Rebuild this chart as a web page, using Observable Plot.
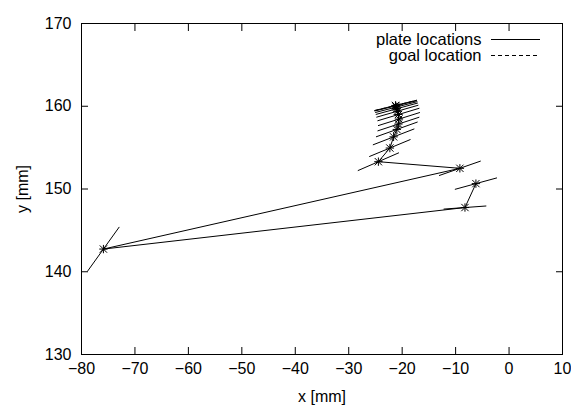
<!DOCTYPE html>
<html>
<head>
<meta charset="utf-8">
<script src="https://cdn.jsdelivr.net/npm/d3@7"></script>
<script src="https://cdn.jsdelivr.net/npm/@observablehq/plot@0.6"></script>
<style>
  html, body { margin: 0; padding: 0; background: white; }
</style>
</head>
<body>
<div id="chart"></div>
<script>
// Plate centre positions (mm), in travel order
const plateX = [-6.2, -8.25, -75.9, -9.2, -24.45, -22.3, -21.6, -21.0, -20.7, -20.6, -20.7, -20.9, -21.0, -21.1, -21.2, -21.25];
const plateY = [150.65, 147.76, 142.74, 152.5, 153.3, 154.95, 156.3, 157.2, 157.85, 158.45, 159.0, 159.4, 159.7, 159.9, 160.05, 160.1];
// Plate orientation angle (degrees) read from the short segments
const plateAngle = [10, 2.7, 42, 12.7, 15.7, 15, 14, 13, 12, 11.5, 11, 10.5, 10, 9.5, 9, 9];
const plateLength = 8; // mm, length of each drawn plate segment

// Goal location
const goalX = [-21.2];
const goalY = [160.1];
const goalAngle = [9];

const xTicks = [-80, -70, -60, -50, -40, -30, -20, -10, 0, 10];
const yTicks = [130, 140, 150, 160, 170];

const plates = plateX.map((x, i) => ({x, y: plateY[i], a: plateAngle[i]}));
const toSeg = (d) => {
  const r = d.a * Math.PI / 180, h = plateLength / 2;
  return {x1: d.x - h * Math.cos(r), y1: d.y - h * Math.sin(r), x2: d.x + h * Math.cos(r), y2: d.y + h * Math.sin(r)};
};
const plateSegs = plates.map(toSeg);
const goalSegs = goalX.map((x, i) => toSeg({x, y: goalY[i], a: goalAngle[i]}));

const font = "'Liberation Sans', Arial, Helvetica, sans-serif";

const chart = Plot.plot({
  width: 571,
  height: 405,
  marginLeft: 81,
  marginRight: 9,
  marginTop: 23,
  marginBottom: 51,
  style: {fontFamily: font, fontSize: "16px", background: "white", color: "black"},
  x: {domain: [-80, 10], ticks: xTicks},
  y: {domain: [130, 170], ticks: yTicks},
  marks: [
    // ticks (inward, mirrored)
    Plot.axisX(xTicks, {anchor: "bottom", tickSize: -7, fill: "none", label: null}),
    Plot.axisX(xTicks, {anchor: "top", tickSize: -7, fill: "none", label: null}),
    Plot.axisY(yTicks, {anchor: "left", tickSize: -7, fill: "none", label: null}),
    Plot.axisY(yTicks, {anchor: "right", tickSize: -7, fill: "none", label: null}),
    // tick labels
    Plot.axisX(xTicks, {anchor: "bottom", tickSize: 0, tickPadding: 8, label: "x [mm]", labelAnchor: "center", labelArrow: "none", labelOffset: 47}),
    Plot.axisY(yTicks, {anchor: "left", tickSize: 0, tickPadding: 10, label: "y [mm]", labelAnchor: "center", labelArrow: "none", labelOffset: 65}),
    Plot.frame({stroke: "black", strokeWidth: 1}),
    // goal location (dashed)
    Plot.link(goalSegs, {x1: "x1", y1: "y1", x2: "x2", y2: "y2", stroke: "black", strokeWidth: 1, strokeDasharray: "4,3"}),
    // plate path
    Plot.line(plates, {x: "x", y: "y", stroke: "black", strokeWidth: 1}),
    // plate orientation segments
    Plot.link(plateSegs, {x1: "x1", y1: "y1", x2: "x2", y2: "y2", stroke: "black", strokeWidth: 1}),
    // asterisk markers
    Plot.dot(plates, {x: "x", y: "y", symbol: "plus", r: 2.8, stroke: "black", strokeWidth: 1}),
    Plot.dot(plates, {x: "x", y: "y", symbol: "times", r: 3.4, stroke: "black", strokeWidth: 1}),
    // legend labels
    Plot.text(["plate locations"], {frameAnchor: "top-right", textAnchor: "end", lineAnchor: "middle", dx: -81, dy: 16, fill: "black", fontSize: 16.5}),
    Plot.text(["goal location"], {frameAnchor: "top-right", textAnchor: "end", lineAnchor: "middle", dx: -81, dy: 32.5, fill: "black", fontSize: 16.5})
  ]
});

// legend line samples
const svg = d3.select(chart);
svg.append("line").attr("x1", 491).attr("x2", 540).attr("y1", 39.5).attr("y2", 39.5)
  .attr("stroke", "black").attr("stroke-width", 1);
svg.append("line").attr("x1", 491).attr("x2", 540).attr("y1", 55.5).attr("y2", 55.5)
  .attr("stroke", "black").attr("stroke-width", 1).attr("stroke-dasharray", "4,3");

document.getElementById("chart").appendChild(chart);
</script>
</body>
</html>
